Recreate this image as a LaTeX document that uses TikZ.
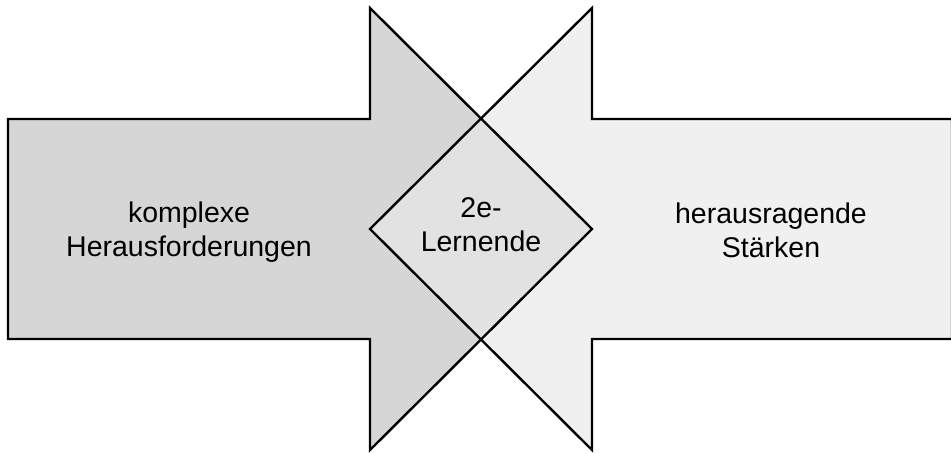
\documentclass[tikz,border=0pt]{standalone}
\usepackage{fontspec}
\setmainfont{Liberation Sans}
\definecolor{leftgray}{RGB}{214,214,214}
\definecolor{midgray}{RGB}{226,226,226}
\definecolor{rightgray}{RGB}{240,240,240}
\begin{document}
\begin{tikzpicture}[x=1pt,y=-1pt,
  outline/.style={draw=black,line width=2.4pt,line join=miter},
  label/.style={align=center,font=\fontsize{28.5}{34}\selectfont,inner sep=0pt}]
\useasboundingbox (0,0) rectangle (951,453);
\clip (0,0) rectangle (951,453);
% coordinates
\coordinate (L1) at (8,119);
\coordinate (L2) at (370,119);
\coordinate (L3) at (370,8);
\coordinate (Ltip) at (592,229);
\coordinate (L4) at (370,450);
\coordinate (L5) at (370,339);
\coordinate (L6) at (8,339);
\coordinate (R1) at (952,119);
\coordinate (R2) at (592,119);
\coordinate (R3) at (592,8);
\coordinate (Rtip) at (370,229);
\coordinate (R4) at (592,450);
\coordinate (R5) at (592,339);
\coordinate (R6) at (952,339);
\coordinate (Dt) at (481,118);
\coordinate (Db) at (481,340);
% fills
\fill[leftgray] (L1) -- (L2) -- (L3) -- (Ltip) -- (L4) -- (L5) -- (L6) -- cycle;
\fill[rightgray] (R1) -- (R2) -- (R3) -- (Rtip) -- (R4) -- (R5) -- (R6) -- cycle;
\fill[midgray] (Rtip) -- (Dt) -- (Ltip) -- (Db) -- cycle;
% outlines
\draw[outline] (L1) -- (L2) -- (L3) -- (Ltip) -- (L4) -- (L5) -- (L6) -- cycle;
\draw[outline] (R1) -- (R2) -- (R3) -- (Rtip) -- (R4) -- (R5) -- (R6) -- cycle;
% labels
\node[label] (left) at (189,232) {komplexe\\Herausforderungen};
\node[label] (mid) at (481,225) {2e-\\Lernende};
\node[label] (right) at (771,230) {herausragende\\Stärken};
\end{tikzpicture}
\end{document}
